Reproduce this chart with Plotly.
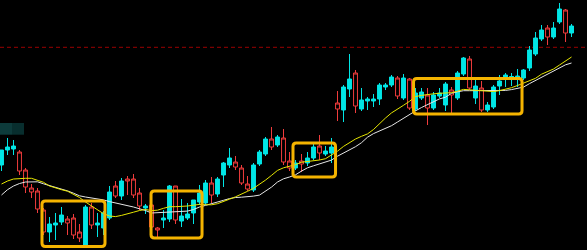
import plotly.graph_objects as go

# ---- data (price units) ----
idx = list(range(96))
open_ = [20.0,20.3,20.4,17.9,16.3,15.8,14.1,11.8,12.6,12.7,13.5,12.7,11.5,11.2,14.3,12.5,12.7,13.7,15.8,15.4,
         16.9,16.9,15.5,14.4,14.4,12.3,12.0,13.2,16.4,13.0,13.4,13.6,15.0,15.7,16.7,15.5,17.1,18.7,19.2,18.3,
         16.7,16.1,18.5,19.8,21.1,20.3,21.3,18.8,18.2,18.7,18.6,19.2,20.3,19.7,19.9,20.3,24.1,26.3,27.1,24.4,
         25.0,25.1,25.1,26.5,26.5,27.3,25.4,27.2,24.2,25.7,25.8,24.2,25.5,25.7,26.6,25.5,27.7,29.2,26.2,26.4,
         24.0,24.5,26.3,26.9,27.5,27.35,27.4,28.0,30.0,31.2,32.0,31.3,32.2,34.1,31.7,32.4]
high = [20.0,21.2,21.0,20.0,18.2,16.6,16.2,14.2,13.3,13.7,14.3,13.4,13.6,12.6,14.5,14.7,13.7,13.9,16.4,16.9,
        17.2,17.4,17.6,16.2,14.6,14.7,12.3,14.0,16.5,16.4,15.1,14.7,15.0,16.5,17.0,17.3,17.3,18.8,20.2,19.4,
        18.5,17.4,18.7,20.0,21.3,22.3,21.5,22.1,19.8,19.0,19.6,19.8,20.6,21.5,20.4,21.2,25.9,26.5,29.6,28.0,
        26.2,25.3,25.6,26.7,26.7,27.5,27.4,27.6,27.2,26.2,26.2,26.2,25.8,26.2,26.8,26.3,27.9,29.3,29.4,27.0,
        26.9,24.8,26.5,27.5,27.7,27.7,28.1,28.1,30.4,31.8,32.5,32.5,32.8,34.7,34.1,32.6]
low = [17.9,19.5,19.5,17.5,15.7,15.2,13.7,11.5,10.8,11.0,12.5,11.5,11.1,10.8,10.4,12.1,11.3,11.5,13.0,15.2,
       15.0,15.5,15.2,14.0,13.6,12.0,11.3,12.2,12.8,12.6,12.3,13.0,12.6,14.5,14.5,14.7,15.3,16.3,18.2,18.0,
       16.5,15.9,15.8,18.4,19.4,20.0,20.3,18.5,17.9,18.0,17.8,18.4,19.0,19.0,19.4,18.7,22.9,22.8,25.3,23.7,
       23.9,24.0,24.3,24.5,26.0,26.3,25.1,25.0,24.0,23.9,25.0,22.5,24.0,25.2,23.9,23.7,25.0,27.4,26.0,24.6,
       23.8,23.8,24.1,25.5,26.3,26.4,26.3,27.0,27.9,29.4,30.9,30.5,31.1,32.6,30.8,31.3]
close = [18.5,20.0,20.1,19.8,18.0,16.2,15.9,14.0,11.8,12.5,12.8,13.1,13.2,11.8,10.5,14.3,12.5,12.2,13.2,16.4,
         15.4,17.1,17.1,15.7,14.2,14.5,12.2,13.0,13.1,16.4,12.9,13.2,13.7,14.8,14.7,16.7,15.6,17.5,18.5,18.8,
         18.2,16.6,16.0,18.6,19.6,21.1,20.5,21.2,18.9,18.2,18.9,18.7,19.2,20.4,19.6,19.7,24.7,24.0,26.1,27.7,
         24.1,24.9,24.9,25.1,26.3,26.5,27.2,25.2,27.1,24.1,25.2,25.5,24.2,25.4,24.5,26.0,25.2,27.6,29.1,25.2,
         26.2,24.0,24.3,26.4,27.3,27.3,27.2,27.2,28.2,29.6,31.1,32.2,31.3,32.8,34.0,31.7]
ma_yellow = [16.60,16.90,17.10,17.17,17.17,17.17,17.00,16.77,16.40,16.20,16.03,15.88,15.60,15.25,14.80,14.40,13.97,13.63,13.40,13.34,
             13.46,13.59,13.78,13.95,14.05,13.94,13.98,14.17,14.33,14.33,14.34,14.40,14.48,14.56,14.53,14.52,14.63,14.82,15.08,15.32,
             15.57,15.87,16.17,16.54,16.99,17.46,17.96,18.22,18.35,18.53,18.78,18.84,18.90,19.00,19.13,19.47,19.88,20.36,20.77,21.10,
             21.37,21.61,22.05,22.64,23.20,23.71,24.13,24.47,24.87,25.34,25.46,25.57,25.62,25.67,25.70,25.73,25.88,26.06,26.02,25.98,
             25.94,25.89,25.84,25.94,26.07,26.23,26.45,26.69,26.93,27.17,27.58,27.83,28.10,28.50,28.90,29.30]
ma_white = [15.50,16.03,16.40,16.65,16.80,16.83,16.82,16.62,16.45,16.29,16.11,15.91,15.68,15.42,15.30,15.21,15.13,15.01,14.84,14.72,
            14.60,14.46,14.30,14.12,13.95,13.70,13.73,13.79,13.83,13.85,13.87,13.89,14.05,14.30,14.46,14.61,14.82,14.97,15.14,15.25,
            15.28,15.32,15.39,15.49,15.87,16.29,16.80,17.12,17.30,17.52,17.89,18.22,18.42,18.59,18.76,18.99,19.38,19.67,19.97,20.33,
            20.73,21.28,21.64,21.88,22.13,22.43,22.80,23.19,23.60,23.91,24.25,24.56,24.88,25.11,25.28,25.67,25.82,25.93,25.93,25.93,
            25.93,25.93,25.93,25.93,25.96,26.04,26.15,26.29,26.64,26.95,27.31,27.61,27.92,28.22,28.52,28.70]
# highlighted zones: (first idx, last idx, low price, high price)
zone_x0 = [6.75, 24.92, 48.58, 68.67]
zone_x1 = [17.25, 33.42, 55.67, 86.75]
zone_lo = [10.35, 11.2, 17.3, 23.6]
zone_hi = [14.9, 15.9, 20.7, 27.15]
ref_level = 30.27

RED = "#f03c3c"
CYAN = "#00e6e6"
GOLD = "#f5b400"

fig = go.Figure()
fig.add_trace(go.Scatter(x=idx, y=ma_white, mode="lines", line=dict(color="#e6e6e6", width=1), hoverinfo="skip"))
fig.add_trace(go.Scatter(x=idx, y=ma_yellow, mode="lines", line=dict(color="#e6e600", width=1), hoverinfo="skip"))
fig.add_trace(go.Candlestick(
    x=idx, open=open_, high=high, low=low, close=close,
    increasing=dict(line=dict(color=RED, width=1), fillcolor="#000000"),
    decreasing=dict(line=dict(color=CYAN, width=1), fillcolor=CYAN),
    whiskerwidth=0, hoverinfo="skip"))

shapes = []
# teal marker boxes at left
shapes.append(dict(type="rect", x0=-0.25, x1=1.75, y0=21.53, y1=22.7, line=dict(width=0),
                   fillcolor="#0d3b3b", layer="below"))
shapes.append(dict(type="rect", x0=1.75, x1=3.75, y0=21.53, y1=22.7, line=dict(width=0),
                   fillcolor="#082e2e", layer="below"))
# dashed reference line
shapes.append(dict(type="line", xref="paper", x0=0, x1=1, y0=ref_level, y1=ref_level,
                   line=dict(color="#9a0000", width=1, dash="4px,3px"), layer="below"))
rx, ry = 0.55, 0.33
for a, b, lo, hi in zip(zone_x0, zone_x1, zone_lo, zone_hi):
    p = (f"M {a+rx},{hi} L {b-rx},{hi} Q {b},{hi} {b},{hi-ry} L {b},{lo+ry} Q {b},{lo} {b-rx},{lo} "
         f"L {a+rx},{lo} Q {a},{lo} {a},{lo+ry} L {a},{hi-ry} Q {a},{hi} {a+rx},{hi} Z")
    shapes.append(dict(type="path", path=p, line=dict(color=GOLD, width=3), layer="above"))

fig.update_layout(
    width=587, height=250, margin=dict(l=0, r=0, t=0, b=0),
    paper_bgcolor="#000000", plot_bgcolor="#000000",
    showlegend=False, boxgap=0.35, boxgroupgap=0, shapes=shapes, hovermode=False,
    xaxis=dict(range=[-0.25, 97.58], visible=False, rangeslider=dict(visible=False), fixedrange=True),
    yaxis=dict(range=[10, 35], visible=False, fixedrange=True),
)
fig.write_html("out.html", config={"displayModeBar": False})
